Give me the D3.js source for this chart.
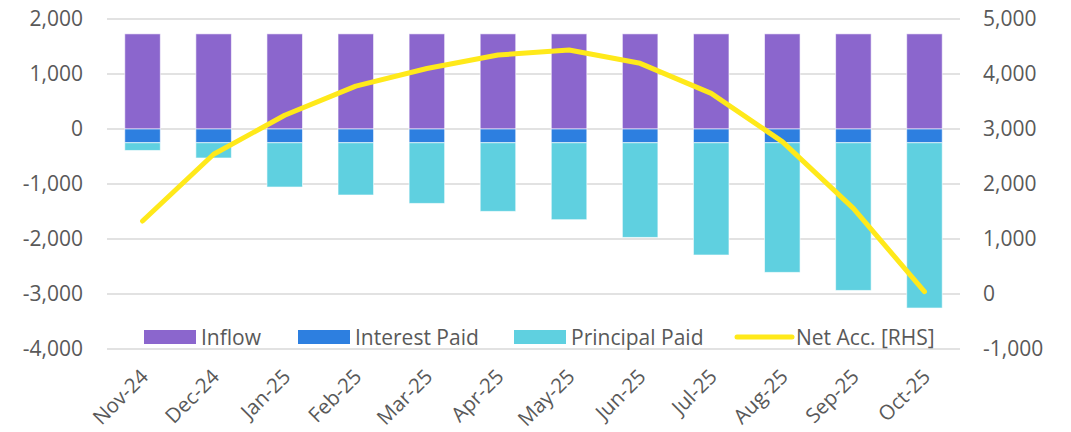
<!DOCTYPE html>
<html>
<head>
<meta charset="utf-8">
<script src="https://cdn.jsdelivr.net/npm/d3@7"></script>
<style>
  body { margin: 0; background: #fff; }
  text { font-family: "Open Sans", sans-serif; fill: #595959; }
</style>
</head>
<body>
<svg id="chart" width="1071" height="432"></svg>
<script>
const months = ["Nov-24","Dec-24","Jan-25","Feb-25","Mar-25","Apr-25","May-25","Jun-25","Jul-25","Aug-25","Sep-25","Oct-25"];
const inflow = [1730,1730,1730,1730,1730,1730,1730,1730,1730,1730,1730,1730];
const interest_paid = [-250,-250,-250,-250,-250,-250,-250,-250,-250,-250,-250,-250];
const principal_paid = [-140,-277,-805,-950,-1103,-1248,-1399,-1721,-2041,-2357,-2685,-3005];
const net_acc = [1327,2540,3250,3780,4100,4345,4436,4194,3648,2770,1558,42];
const left_ticks = [2000,1000,0,-1000,-2000,-3000,-4000];
const right_ticks = [5000,4000,3000,2000,1000,0,-1000];

const colors = { inflow: "#8b66cd", interest: "#2d7fe0", principal: "#5fd0e0", net: "#ffe91a" };

const svg = d3.select("#chart");
const plot = { left: 107, right: 960, top: 19, bottom: 349 };

const x = d3.scaleBand().domain(months).range([plot.left, plot.right]).paddingInner(0.5).paddingOuter(0.25);
const y = d3.scaleLinear().domain([-4000, 2000]).range([plot.bottom, plot.top]);
const y2 = d3.scaleLinear().domain([-1000, 5000]).range([plot.bottom, plot.top]);

// thousands with plain hyphen minus, like Excel
const fmt = d => d3.format(",")(d).replace("\u2212", "-");

// gridlines
svg.append("g").selectAll("line").data(left_ticks).join("line")
    .attr("x1", plot.left).attr("x2", plot.right)
    .attr("y1", d => y(d)).attr("y2", d => y(d))
    .style("stroke", "#d9d9d9").style("stroke-width", 1.5);

// axes (text only)
const leftAxis = svg.append("g").attr("transform", `translate(${plot.left},0)`)
    .call(d3.axisLeft(y).tickValues(left_ticks).tickFormat(fmt).tickSize(0).tickPadding(24));
const rightAxis = svg.append("g").attr("transform", `translate(${plot.right},0)`)
    .call(d3.axisRight(y2).tickValues(right_ticks).tickFormat(fmt).tickSize(0).tickPadding(23));
[leftAxis, rightAxis].forEach(a => {
    a.select(".domain").remove();
    a.selectAll("text").style("font-size", "21px").style("fill", "#595959").style("font-family", "\"Open Sans\", sans-serif");
});

// bars
function bars(values, base, color) {
    svg.append("g").selectAll("rect").data(months).join("rect")
        .attr("x", d => x(d))
        .attr("width", x.bandwidth())
        .attr("y", (d, i) => Math.min(y(base[i]), y(base[i] + values[i])))
        .attr("height", (d, i) => Math.abs(y(base[i] + values[i]) - y(base[i])))
        .style("fill", color)
        .style("stroke", "#ffffff").style("stroke-opacity", 0.6).style("stroke-width", 1);
}
const zeros = months.map(() => 0);
bars(inflow, zeros, colors.inflow);
bars(interest_paid, zeros, colors.interest);
bars(principal_paid, interest_paid, colors.principal);

// net line
const line = d3.line().x((d, i) => x(months[i]) + x.bandwidth() / 2).y(d => y2(d));
svg.append("path").datum(net_acc)
    .attr("d", line)
    .style("fill", "none").style("stroke", colors.net).style("stroke-width", 5)
    .style("stroke-linecap", "round").style("stroke-linejoin", "round");

// x labels
svg.append("g").selectAll("text").data(months).join("text")
    .attr("transform", d => `translate(${x(d) + x.bandwidth() / 2 + 7},${378}) rotate(-45)`)
    .attr("text-anchor", "end")
    .style("font-size", "20.5px")
    .text(d => d);

// legend
const legend = [
    { name: "Inflow", color: colors.inflow, type: "rect", x: 144 },
    { name: "Interest Paid", color: colors.interest, type: "rect", x: 298 },
    { name: "Principal Paid", color: colors.principal, type: "rect", x: 514 },
    { name: "Net Acc. [RHS]", color: colors.net, type: "line", x: 737 }
];
const lg = svg.append("g").selectAll("g").data(legend).join("g")
    .attr("transform", d => `translate(${d.x},337)`);
lg.filter(d => d.type === "rect").append("rect")
    .attr("x", 0).attr("y", -7).attr("width", 52).attr("height", 14)
    .style("fill", d => d.color);
lg.filter(d => d.type === "line").append("line")
    .attr("x1", 0).attr("x2", 55).attr("y1", 0).attr("y2", 0)
    .style("stroke", d => d.color).style("stroke-width", 5).style("stroke-linecap", "round");
lg.append("text")
    .attr("x", d => d.type === "line" ? 59 : 57)
    .attr("y", 7.5)
    .style("font-size", "21px")
    .text(d => d.name);
</script>
</body>
</html>
